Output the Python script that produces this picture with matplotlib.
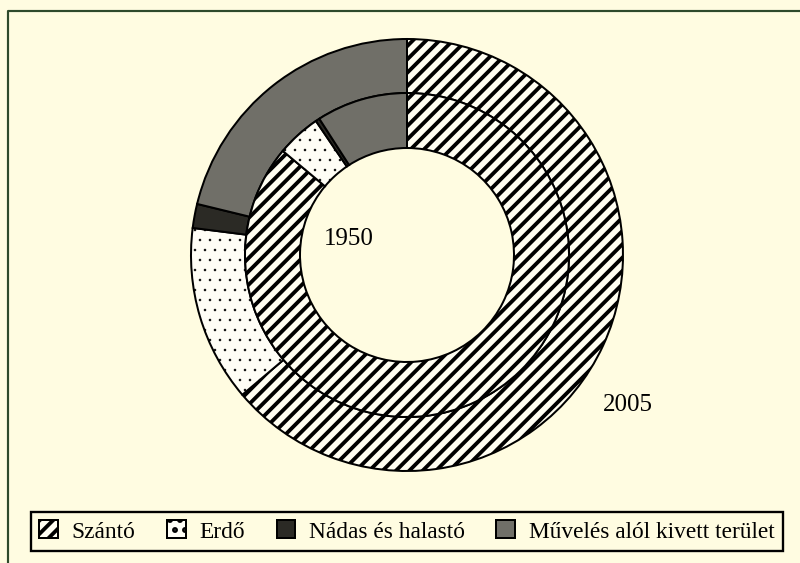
import matplotlib
matplotlib.use('Agg')
import matplotlib.pyplot as plt

# land use shares (%)
categories = ['Szántó', 'Erdő', 'Nádas és halastó', 'Művelés alól kivett terület']
share_1950 = [86.1, 4.4, 0.4, 9.1]
share_2005 = [63.8, 13.2, 1.8, 21.2]
year_labels = ['1950', '2005']

bg = '#fffce1'
face = ['#fffef2', '#fffef6', '#2b2a25', '#706f68']
hatches = ['///', '..', '', '']

plt.rcParams['font.family'] = ['Liberation Serif', 'DejaVu Serif']
plt.rcParams['hatch.linewidth'] = 2.3

dpi = 120
fig = plt.figure(figsize=(800 / dpi, 563 / dpi), dpi=dpi, facecolor=bg)
ax = fig.add_axes([0, 0, 1, 1])
ax.set_facecolor(bg)

# ring geometry in pixel units
cx, cy = 407, 308
r_out, r_mid, r_in = 216, 162, 107

wp = dict(edgecolor='black', linewidth=1.2)
w_out, _ = ax.pie(share_2005, radius=r_out, center=(cx, cy), startangle=90,
                  counterclock=False, colors=face, hatch=hatches, frame=True,
                  wedgeprops=dict(width=r_out - r_mid, **wp))
w_in, _ = ax.pie(share_1950, radius=r_mid, center=(cx, cy), startangle=90,
                 counterclock=False, colors=face, hatch=hatches, frame=True,
                 wedgeprops=dict(width=r_mid - r_in, **wp))

for w in (w_out[1], w_in[1]):
    if hasattr(w, 'set_hatch_linewidth'):
        w.set_hatch_linewidth(0.3)

ax.set_xlim(0, 800)
ax.set_ylim(0, 563)
ax.set_aspect('equal')
ax.axis('off')

ax.text(349, 324, year_labels[0], fontsize=15, ha='center', va='center')
ax.text(628, 158, year_labels[1], fontsize=15, ha='center', va='center')

# page frame (left and top edge only)
ax.plot([7.5, 7.5, 800], [0, 552.3, 552.3], color='#2e4a2b', lw=1.3, clip_on=False)

leg = ax.legend(w_out, categories, loc='center', bbox_to_anchor=(31, 11, 752, 41),
                bbox_transform=ax.transData, mode='expand', ncol=4, fontsize=14,
                frameon=True, fancybox=False, edgecolor='black', facecolor=bg,
                framealpha=1, handlelength=0.8, handleheight=0.8, handletextpad=0.6,
                borderpad=0.35, borderaxespad=0)
leg.get_frame().set_linewidth(1.4)

fig.savefig('out.png', dpi=dpi, facecolor=bg)
